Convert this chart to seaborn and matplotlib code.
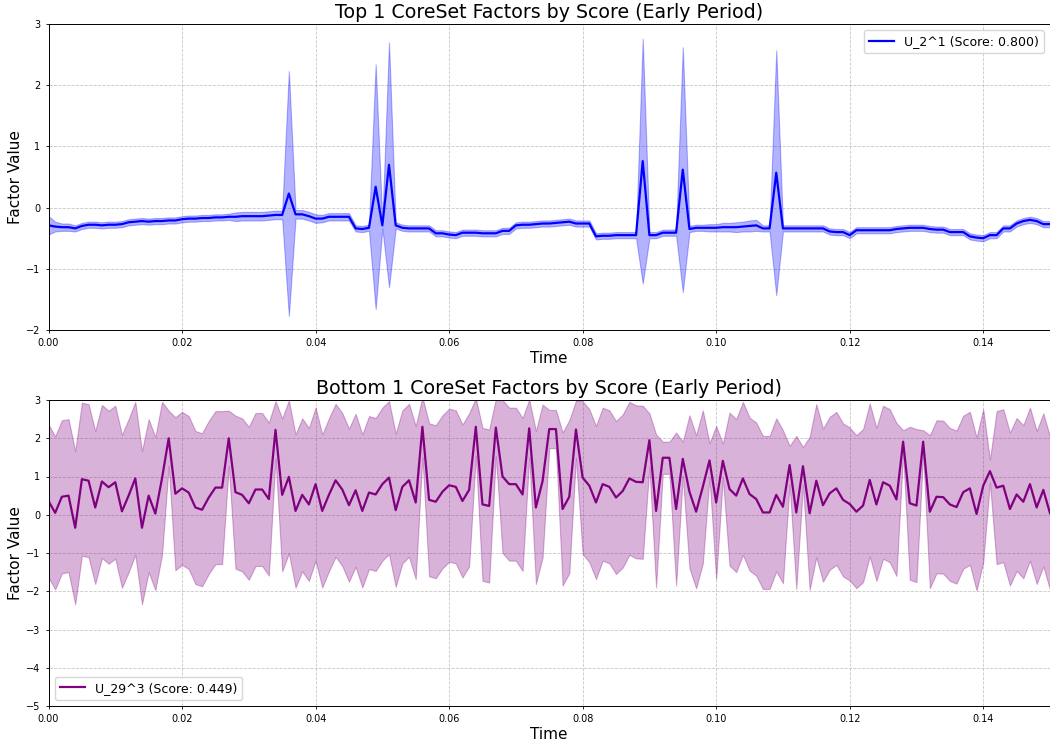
import numpy as np
import pandas as pd
import matplotlib
matplotlib.use("Agg")
import matplotlib.pyplot as plt
import seaborn as sns

# ---------------- data ----------------
time_step = 0.001
n_points = 151

top_label = "U_2^1 (Score: 0.800)"
bottom_label = "U_29^3 (Score: 0.449)"
top_title = "Top 1 CoreSet Factors by Score (Early Period)"
bottom_title = "Bottom 1 CoreSet Factors by Score (Early Period)"

top_mean = [
    -0.29, -0.31, -0.32, -0.32, -0.34, -0.30, -0.28, -0.28, -0.29, -0.28,
    -0.28, -0.27, -0.24, -0.23, -0.22, -0.23, -0.22, -0.22, -0.21, -0.21,
    -0.19, -0.18, -0.18, -0.17, -0.17, -0.16, -0.16, -0.15, -0.15, -0.14,
    -0.14, -0.14, -0.14, -0.13, -0.12, -0.12, 0.23, -0.11, -0.11, -0.14,
    -0.18, -0.18, -0.15, -0.15, -0.15, -0.15, -0.34, -0.35, -0.33, 0.34,
    -0.29, 0.70, -0.29, -0.33, -0.34, -0.34, -0.34, -0.34, -0.42, -0.42,
    -0.44, -0.45, -0.41, -0.41, -0.41, -0.42, -0.42, -0.42, -0.38, -0.38,
    -0.29, -0.28, -0.28, -0.27, -0.26, -0.26, -0.25, -0.24, -0.23, -0.26,
    -0.26, -0.26, -0.47, -0.46, -0.46, -0.45, -0.45, -0.45, -0.45, 0.76,
    -0.45, -0.45, -0.41, -0.41, -0.41, 0.62, -0.35, -0.33, -0.33, -0.33,
    -0.33, -0.32, -0.32, -0.32, -0.31, -0.30, -0.29, -0.34, -0.34, 0.57,
    -0.34, -0.34, -0.34, -0.34, -0.34, -0.34, -0.34, -0.39, -0.40, -0.40,
    -0.45, -0.37, -0.37, -0.37, -0.37, -0.37, -0.37, -0.35, -0.34, -0.33,
    -0.33, -0.33, -0.35, -0.36, -0.36, -0.40, -0.40, -0.40, -0.47, -0.49,
    -0.50, -0.45, -0.45, -0.34, -0.34, -0.26, -0.22, -0.20, -0.22, -0.27,
    -0.27,
]

top_std = [
    0.15, 0.08, 0.06, 0.06, 0.05, 0.05, 0.05, 0.05, 0.05, 0.05,
    0.05, 0.05, 0.05, 0.05, 0.05, 0.05, 0.05, 0.05, 0.05, 0.05,
    0.05, 0.05, 0.05, 0.05, 0.05, 0.05, 0.05, 0.05, 0.07, 0.07,
    0.07, 0.07, 0.07, 0.07, 0.07, 0.07, 2.00, 0.07, 0.07, 0.07,
    0.07, 0.06, 0.06, 0.06, 0.06, 0.06, 0.05, 0.05, 0.05, 2.00,
    0.05, 2.00, 0.05, 0.05, 0.05, 0.05, 0.05, 0.05, 0.05, 0.05,
    0.05, 0.05, 0.05, 0.05, 0.05, 0.05, 0.05, 0.05, 0.05, 0.05,
    0.05, 0.05, 0.05, 0.05, 0.05, 0.05, 0.05, 0.05, 0.05, 0.05,
    0.05, 0.05, 0.05, 0.05, 0.05, 0.05, 0.05, 0.05, 0.05, 2.00,
    0.05, 0.05, 0.05, 0.05, 0.05, 2.00, 0.05, 0.05, 0.05, 0.06,
    0.06, 0.07, 0.07, 0.08, 0.08, 0.09, 0.09, 0.05, 0.05, 2.00,
    0.05, 0.05, 0.05, 0.05, 0.05, 0.05, 0.05, 0.05, 0.05, 0.05,
    0.05, 0.05, 0.05, 0.05, 0.05, 0.05, 0.05, 0.05, 0.05, 0.05,
    0.05, 0.05, 0.05, 0.05, 0.05, 0.05, 0.05, 0.05, 0.05, 0.05,
    0.05, 0.05, 0.05, 0.05, 0.05, 0.05, 0.05, 0.05, 0.05, 0.05,
    0.05,
]

bottom_mean = [
    0.36, 0.05, 0.47, 0.50, -0.34, 0.93, 0.89, 0.19, 0.87, 0.72,
    0.85, 0.09, 0.50, 0.95, -0.34, 0.50, 0.03, 0.95, 2.00, 0.55,
    0.69, 0.58, 0.19, 0.13, 0.45, 0.71, 0.71, 2.00, 0.59, 0.52,
    0.30, 0.66, 0.66, 0.41, 2.22, 0.52, 0.99, 0.10, 0.52, 0.27,
    0.80, 0.10, 0.52, 0.90, 0.66, 0.25, 0.64, 0.10, 0.58, 0.53,
    0.80, 0.97, 0.12, 0.73, 0.90, 0.32, 2.30, 0.39, 0.34, 0.60,
    0.77, 0.73, 0.36, 0.65, 2.30, 0.27, 0.23, 2.28, 1.00, 0.80,
    0.80, 0.53, 2.26, 0.19, 0.88, 2.24, 2.24, 0.15, 0.47, 2.23,
    0.97, 0.76, 0.32, 0.80, 0.73, 0.45, 0.62, 0.95, 0.86, 0.85,
    1.95, 0.10, 1.49, 1.49, 0.15, 1.46, 0.60, 0.08, 0.73, 1.42,
    0.32, 1.41, 0.67, 0.50, 0.95, 0.54, 0.41, 0.06, 0.06, 0.52,
    0.21, 1.30, 0.06, 1.27, 0.04, 0.89, 0.25, 0.56, 0.69, 0.39,
    0.28, 0.08, 0.24, 0.91, 0.27, 0.85, 0.76, 0.40, 1.91, 0.30,
    0.24, 1.91, 0.08, 0.47, 0.46, 0.27, 0.20, 0.59, 0.69, 0.02,
    0.76, 1.14, 0.71, 0.76, 0.15, 0.53, 0.34, 0.80, 0.19, 0.65,
    0.04,
]

bottom_std = [
    2.00, 2.00, 2.00, 2.00, 2.00, 2.00, 2.00, 2.00, 2.00, 2.00,
    2.00, 2.00, 2.00, 2.00, 2.00, 2.00, 2.00, 2.00, 0.72, 2.00,
    2.00, 2.00, 2.00, 2.00, 2.00, 2.00, 2.00, 0.72, 2.00, 2.00,
    2.00, 2.00, 2.00, 2.00, 0.75, 2.00, 2.00, 2.00, 2.00, 2.00,
    2.00, 2.00, 2.00, 2.00, 2.00, 2.00, 2.00, 2.00, 2.00, 2.00,
    2.00, 2.00, 2.00, 2.00, 2.00, 2.00, 0.78, 2.00, 2.00, 2.00,
    2.00, 2.00, 2.00, 2.00, 0.75, 2.00, 2.00, 0.75, 2.00, 2.00,
    2.00, 2.00, 0.75, 2.00, 2.00, 0.50, 0.50, 2.00, 2.00, 0.75,
    2.00, 2.00, 2.00, 2.00, 2.00, 2.00, 2.00, 2.00, 2.00, 2.00,
    0.70, 2.00, 0.42, 0.42, 2.00, 0.45, 2.00, 2.00, 2.00, 0.45,
    2.00, 0.45, 2.00, 2.00, 2.00, 2.00, 2.00, 2.00, 2.00, 2.00,
    2.00, 0.50, 2.00, 0.50, 2.00, 2.00, 2.00, 2.00, 2.00, 2.00,
    2.00, 2.00, 2.00, 2.00, 2.00, 2.00, 2.00, 2.00, 0.30, 2.00,
    2.00, 0.30, 2.00, 2.00, 2.00, 2.00, 2.00, 2.00, 2.00, 2.00,
    2.00, 0.30, 2.00, 2.00, 2.00, 2.00, 2.00, 2.00, 2.00, 2.00,
    2.00,
]

x_ticks = [0.00, 0.02, 0.04, 0.06, 0.08, 0.10, 0.12, 0.14]
top_yticks = [-2, -1, 0, 1, 2, 3]
bottom_yticks = [-5, -4, -3, -2, -1, 0, 1, 2, 3]

# ---------------- tables ----------------
time = np.arange(n_points) * time_step
df_top = pd.DataFrame({"Time": time, "mean": top_mean, "std": top_std})
df_bot = pd.DataFrame({"Time": time, "mean": bottom_mean, "std": bottom_std})

# ---------------- figure ----------------
plt.rcParams["font.family"] = ["DejaVu Sans"]
fig = plt.figure(figsize=(10.5, 7.44), dpi=100)
W, H = 1050.0, 744.0
left = 48.5 / W
width = 1.0 - left
ax1 = fig.add_axes([left, 1 - 330 / H, width, 306 / H])
ax2 = fig.add_axes([left, 1 - 706 / H, width, 306 / H])


def draw(ax, df, color, label, title, yticks, ylim, legend_loc):
    ax.fill_between(df["Time"], df["mean"] - df["std"], df["mean"] + df["std"],
                    color=color, alpha=0.3, linewidth=0.8)
    sns.lineplot(data=df, x="Time", y="mean", ax=ax, color=color,
                 linewidth=1.6, label=label)
    ax.set_xlim(0, 0.15)
    ax.set_ylim(*ylim)
    ax.set_xticks(x_ticks)
    ax.set_yticks(yticks)
    ax.xaxis.set_major_formatter(matplotlib.ticker.FormatStrFormatter("%.2f"))
    ax.tick_params(labelsize=7, length=2.5, width=0.6)
    ax.grid(True, linestyle="--", alpha=0.7, linewidth=0.6)
    ax.set_axisbelow(True)
    ax.set_title(title, fontsize=13.7, pad=4)
    ax.set_xlabel("Time", fontsize=11, labelpad=2)
    ax.set_ylabel("Factor Value", fontsize=11, labelpad=2)
    for s in ax.spines.values():
        s.set_linewidth(0.7)
    ax.legend(loc=legend_loc, fontsize=9, framealpha=0.8)


draw(ax1, df_top, "blue", top_label, top_title, top_yticks, (-2, 3), "upper right")
draw(ax2, df_bot, "purple", bottom_label, bottom_title, bottom_yticks, (-5, 3), "lower left")

fig.savefig("out.png", dpi=100)
